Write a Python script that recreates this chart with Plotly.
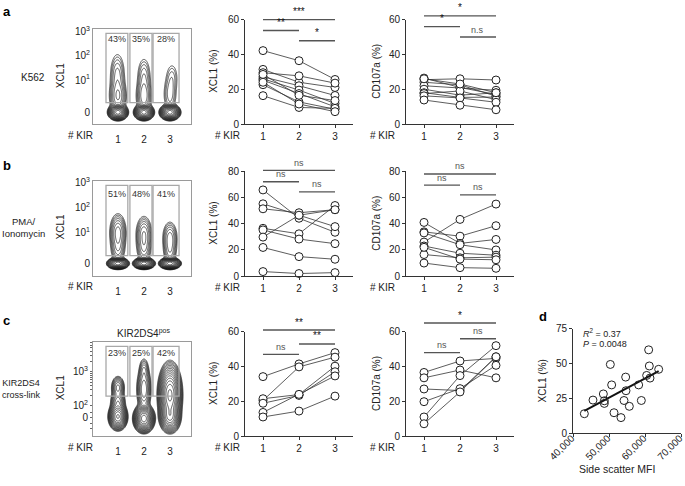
import numpy as np
import plotly.graph_objects as go

W, H = 685, 486
FONT = "Liberation Sans, Arial, sans-serif"
TXT = "#222222"

KIR = [1, 2, 3]

# ---------------- data ----------------
# panel a : K562
a_xcl1 = [[42.2, 36.4, 25.6], [31.4, 24.0, 21.0], [29.5, 27.7, 23.5], [27.1, 22.0, 16.4],
          [26.0, 19.5, 11.8], [25.2, 17.5, 9.9], [22.6, 12.7, 8.5], [28.5, 16.5, 13.5],
          [16.3, 9.5, 9.0], [24.0, 11.5, 7.1]]
a_cd107 = [[26.4, 21.0, 17.0], [25.5, 26.0, 25.3], [24.0, 22.5, 16.0], [22.0, 20.7, 19.4],
           [20.0, 16.6, 17.9], [18.0, 15.3, 15.5], [17.5, 19.0, 14.0], [16.2, 15.0, 12.5],
           [13.8, 10.8, 8.2], [26.0, 23.0, 18.0]]
a_gate_pct = ["43%", "35%", "28%"]

# panel b : PMA/Ionomycin
b_xcl1 = [[65.8, 44.2, 33.5], [55.2, 46.5, 37.8], [51.4, 48.4, 50.7], [36.5, 32.3, 53.9],
          [35.3, 28.3, 24.8], [29.8, 46.5, 50.7], [21.9, 14.9, 12.9], [3.5, 2.0, 2.7]]
b_cd107 = [[26.0, 43.3, 55.0], [33.8, 30.5, 38.5], [41.0, 25.0, 28.0], [33.0, 24.0, 20.0],
           [23.0, 17.5, 16.0], [16.5, 14.0, 14.5], [22.0, 13.0, 12.5], [10.0, 6.5, 6.0]]
b_gate_pct = ["51%", "48%", "41%"]

# panel c : KIR2DS4 cross-link
c_xcl1 = [[34.2, 41.5, 48.0], [20.5, 39.8, 45.4], [21.5, 23.9, 40.2], [18.9, 23.4, 37.0],
          [13.6, 24.0, 34.6], [11.0, 14.4, 23.0]]
c_cd107 = [[36.6, 43.2, 44.7], [33.5, 38.0, 33.5], [27.1, 26.2, 45.6], [19.8, 27.3, 40.7],
           [11.0, 34.8, 52.0], [7.1, 25.4, 45.6]]
c_gate_pct = ["23%", "25%", "42%"]

# panel d : side scatter vs XCL1
d_ssc = [43150, 45550, 48430, 48700, 48700, 50370, 50740, 51390, 53330, 54170,
         54630, 54720, 55650, 58240, 58980, 61020, 61200, 60460, 61390, 63800]
d_xcl1 = [14.0, 23.8, 28.2, 23.3, 21.4, 49.4, 34.7, 14.7, 11.2, 23.5,
          40.3, 30.5, 19.3, 34.7, 23.5, 59.9, 48.3, 41.5, 39.6, 45.9]
d_xticks = [40000, 50000, 60000, 70000]
d_xticklabels = ["40,000", "50,000", "60,000", "70,000"]

# significance bars: (x0, x1, level, label)
a_xcl1_sig = [(1, 3, 60.0, "***"), (1, 2, 53.8, "**"), (2, 3, 47.9, "*")]
a_cd107_sig = [(1, 3, 62.2, "*"), (1, 2, 56.0, "*"), (2, 3, 50.0, "n.s")]
b_xcl1_sig = [(1, 3, 80.7, "ns"), (1, 2, 72.0, "ns"), (2, 3, 64.3, "ns")]
b_cd107_sig = [(1, 3, 78.0, "ns"), (1, 2, 69.5, "ns"), (2, 3, 62.0, "ns")]
c_xcl1_sig = [(1, 3, 61.0, "**"), (1, 2, 47.0, "ns"), (2, 3, 53.0, "**")]
c_cd107_sig = [(1, 3, 65.0, "*"), (1, 2, 48.0, "ns"), (2, 3, 56.0, "ns")]

# flow-plot blob estimates (column, height, x-spread, y-spread, weight)
a_blobs = [(1.0, 12, 0.13, 2.8, 1.0), (1.0, 28, 0.16, 9, 0.05), (0.98, 50, 0.15, 12, 0.03),
           (2.0, 12, 0.13, 2.8, 1.0), (2.0, 28, 0.15, 9, 0.045), (2.0, 48, 0.14, 11, 0.025),
           (3.0, 12, 0.135, 2.8, 1.0), (3.0, 30, 0.14, 10, 0.022), (3.08, 48, 0.14, 9, 0.014)]
b_blobs = [(1.0, 13, 0.14, 2.0, 1.0), (1.0, 45, 0.15, 9, 0.06), (1.0, 28, 0.14, 8, 0.03),
           (2.0, 13, 0.14, 2.0, 1.0), (2.0, 43, 0.15, 9, 0.05), (2.0, 28, 0.14, 8, 0.03),
           (3.0, 13, 0.14, 2.0, 1.0), (3.0, 40, 0.14, 8, 0.04), (3.0, 26, 0.13, 8, 0.03)]
c_blobs = [(1.0, 20, 0.13, 5, 0.6), (1.0, 50, 0.11, 5, 0.08), (1.0, 34, 0.12, 6, 0.1),
           (2.0, 18, 0.14, 5, 1.0), (2.0, 48, 0.12, 10, 0.1), (2.0, 68, 0.09, 6, 0.03),
           (3.0, 42, 0.16, 11.4, 0.9), (3.0, 20, 0.15, 6, 0.4)]

# ---------------- layout helpers ----------------
def dx(p0, p1):
    return [p0 / W, p1 / W]


def dy(top, bottom):
    return [1 - bottom / H, 1 - top / H]


def PX(x):
    return x / W


def PY(y):
    return 1 - y / H


fig = go.Figure()
layout = dict(width=W, height=H, margin=dict(l=0, r=0, t=0, b=0),
              paper_bgcolor="white", plot_bgcolor="white", showlegend=False,
              font=dict(family=FONT, size=10, color=TXT))
shapes = []
annots = []


def ann(x, y, text, size=10, xanchor="center", yanchor="middle", angle=0, bold=False, color=TXT, align="center"):
    if bold:
        text = "<b>" + text + "</b>"
    annots.append(dict(x=PX(x), y=PY(y), xref="paper", yref="paper", text=text, showarrow=False,
                       xanchor=xanchor, yanchor=yanchor, textangle=angle, align=align,
                       font=dict(family=FONT, size=size, color=color)))


def axes_common():
    return dict(showgrid=False, zeroline=False, showline=True, linecolor="#333", linewidth=1,
                ticks="outside", ticklen=3, tickwidth=1, tickcolor="#333",
                tickfont=dict(family=FONT, size=10, color=TXT), fixedrange=True)


def line_panel(idx, xpx, ypx, yrange, ytickvals, data, sig, ylab_x, ylab, kir_right):
    xa = "xaxis%d" % idx
    ya = "yaxis%d" % idx
    xr = "x%d" % idx
    yr = "y%d" % idx
    layout[xa] = dict(axes_common(), domain=dx(*xpx), range=[0.5, 3.5], tickvals=KIR, anchor=yr)
    layout[ya] = dict(axes_common(), domain=dy(*ypx), range=yrange, tickvals=ytickvals, anchor=xr)
    for row in data:
        fig.add_trace(go.Scatter(x=KIR, y=row, mode="lines", xaxis=xr, yaxis=yr,
                                 line=dict(color="#333", width=0.8), hoverinfo="skip"))
    xs = [k for row in data for k in KIR]
    ys = [v for row in data for v in row]
    fig.add_trace(go.Scatter(x=xs, y=ys, mode="markers", xaxis=xr, yaxis=yr, cliponaxis=False,
                             marker=dict(symbol="circle", size=8, color="white",
                                         line=dict(color="#222", width=1))))
    x0p, x1p = xpx
    top, bot = ypx
    for (a, b, lev, lab) in sig:
        X0 = x0p + (a - 0.5) / 3.0 * (x1p - x0p)
        X1 = x0p + (b - 0.5) / 3.0 * (x1p - x0p)
        Y = bot - (lev - yrange[0]) / (yrange[1] - yrange[0]) * (bot - top)
        shapes.append(dict(type="line", xref="paper", yref="paper", x0=PX(X0), x1=PX(X1),
                           y0=PY(Y), y1=PY(Y), line=dict(color="#555", width=1.4)))
        col = "#555" if "n" in lab else "#111"
        ann((X0 + X1) / 2, Y - 0.5, lab, size=9 if "n" in lab else 10, yanchor="bottom", color=col)
    ann(ylab_x, (top + bot) / 2, ylab, size=10, angle=-90)
    ann(kir_right, bot + 12, "# KIR", size=10, xanchor="right")


def flow_panel(idx, xpx, ypx, blobs, ytv, ytt, gate_y, pcts, pct_y, kir_y, ylab_y, minor=None):
    xa = "xaxis%d" % idx
    ya = "yaxis%d" % idx
    xr = "x%d" % idx
    yr = "y%d" % idx
    hpx = ypx[1] - ypx[0]
    xlo, xhi = 0.04, 3.81
    layout[xa] = dict(domain=dx(*xpx), range=[xlo, xhi], tickvals=KIR, showgrid=False, zeroline=False,
                      showline=True, mirror=True, linecolor="#9a9a9a", linewidth=1,
                      ticks="outside", ticklen=6, tickcolor="rgba(0,0,0,0)",
                      tickfont=dict(family=FONT, size=10, color=TXT), anchor=yr, fixedrange=True)
    ydict = dict(domain=dy(*ypx), range=[0, hpx], tickvals=ytv, ticktext=ytt, showgrid=False,
                 zeroline=False, showline=True, mirror=True, linecolor="#9a9a9a", linewidth=1,
                 ticks="", tickfont=dict(family=FONT, size=10, color=TXT), anchor=xr, fixedrange=True)
    if minor is not None:
        ydict["ticks"] = "outside"
        ydict["ticklen"] = 2
        ydict["tickcolor"] = "#666"
        ydict["minor"] = dict(tickvals=minor, ticklen=2, tickcolor="#666", ticks="outside")
    layout[ya] = ydict
    gx = np.linspace(xlo, xhi, 200)
    gy = np.linspace(0, hpx, 200)
    X, Y = np.meshgrid(gx, gy)
    Z = np.zeros_like(X)
    for (cx, cy, sx, sy, w) in blobs:
        Z += w * np.exp(-0.5 * ((X - cx) / sx) ** 2 - 0.5 * ((Y - cy) / sy) ** 2)
    Z = np.log10(Z / Z.max() + 1e-9)
    fig.add_trace(go.Contour(x=gx, y=gy, z=Z, xaxis=xr, yaxis=yr, showscale=False,
                             contours=dict(coloring="lines", start=-2.2, end=-0.05, size=0.15),
                             colorscale=[[0, "#111111"], [1, "#111111"]],
                             line=dict(width=0.7), hoverinfo="skip"))
    gates = [(0.54, 1.38), (1.46, 2.31), (2.35, 3.35)]
    for (g0, g1), p in zip(gates, pcts):
        shapes.append(dict(type="rect", xref=xr, yref=yr, x0=g0, x1=g1, y0=gate_y[0], y1=gate_y[1],
                           line=dict(color="#a8a8a8", width=1.3)))
        cxp = xpx[0] + (((g0 + g1) / 2 - xlo) / (xhi - xlo)) * (xpx[1] - xpx[0])
        ann(cxp, pct_y, p, size=9, color="#333")
    ann(60, ylab_y, "XCL1", size=10, angle=-90)
    ann(95, kir_y, "# KIR", size=10, xanchor="right")


# ---------------- panels ----------------
flow_panel(1, (93, 191), (24, 121), a_blobs, [12, 45, 70, 95],
           ["0", "10<sup>1</sup>", "10<sup>2</sup>", "10<sup>3</sup>"], (22, 93), a_gate_pct, 34, 133, 72)
flow_panel(4, (93, 191), (179, 277), b_blobs, [13, 45, 70, 96],
           ["0", "10<sup>1</sup>", "10<sup>2</sup>", "10<sup>3</sup>"], (21, 93), b_gate_pct, 193, 288, 227)
c_minor = [31 + 35 * np.log10(k) for k in range(2, 10)] + [66 + 35 * np.log10(k) for k in range(2, 8)] + [8, 13, 24]
flow_panel(7, (93, 191), (344, 441), c_blobs, [19, 31, 66],
           ["0", "10<sup>2</sup>", "10<sup>3</sup>"], (41, 92), c_gate_pct, 356, 453, 392, minor=c_minor)

line_panel(2, (245, 353), (14, 121), [0, 60], [0, 20, 40, 60], a_xcl1, a_xcl1_sig, 214, "XCL1 (%)", 242)
line_panel(3, (406, 514), (14, 121), [0, 60], [0, 20, 40, 60], a_cd107, a_cd107_sig, 377, "CD107a (%)", 397)
line_panel(5, (245, 353), (169.5, 277), [0, 80], [0, 20, 40, 60, 80], b_xcl1, b_xcl1_sig, 214, "XCL1 (%)", 242)
line_panel(6, (406, 514), (169.5, 277), [0, 80], [0, 20, 40, 60, 80], b_cd107, b_cd107_sig, 377, "CD107a (%)", 397)
line_panel(8, (245, 353), (334, 441), [0, 60], [0, 20, 40, 60], c_xcl1, c_xcl1_sig, 214, "XCL1 (%)", 242)
line_panel(9, (406, 514), (334, 441), [0, 60], [0, 20, 40, 60], c_cd107, c_cd107_sig, 377, "CD107a (%)", 397)

# panel d scatter
dxp = (573, 681)
layout["xaxis10"] = dict(axes_common(), domain=dx(*dxp), range=[40000, 70000],
                         tickvals=d_xticks, showticklabels=False, anchor="y10")
layout["yaxis10"] = dict(axes_common(), domain=dy(331, 438), range=[0, 75], tickvals=[0, 25, 50, 75], anchor="x10")
slope, icpt = np.polyfit(d_ssc, d_xcl1, 1)
fx = [min(d_ssc), max(d_ssc)]
fig.add_trace(go.Scatter(x=fx, y=[slope * v + icpt for v in fx], mode="lines", xaxis="x10", yaxis="y10",
                         line=dict(color="#111", width=2)))
fig.add_trace(go.Scatter(x=d_ssc, y=d_xcl1, mode="markers", xaxis="x10", yaxis="y10", cliponaxis=False,
                         marker=dict(symbol="circle", size=8, color="rgba(255,255,255,0)",
                                     line=dict(color="#222", width=1))))
for v, t in zip(d_xticks, d_xticklabels):
    xt = dxp[0] + (v - 40000) / 30000.0 * (dxp[1] - dxp[0])
    ann(xt - 11, 453, t, size=10, angle=-45)
ann(581, 335, "<i>R</i><sup>2</sup> = 0.37", size=9, xanchor="left")
ann(581, 347, "<i>P</i> = 0.0048", size=9, xanchor="left")
ann(542, 385, "XCL1 (%)", size=10, angle=-90)
ann(617, 475, "Side scatter MFI", size=10.5)

# panel letters & row labels
ann(1, 6, "a", size=13, xanchor="left", bold=True, color="#000")
ann(1, 164, "b", size=13, xanchor="left", bold=True, color="#000")
ann(1, 322, "c", size=13, xanchor="left", bold=True, color="#000")
ann(537, 318, "d", size=13, xanchor="left", bold=True, color="#000")
ann(47, 73, "K562", size=10, xanchor="right", align="right")
ann(23.5, 227, "PMA/<br>Ionomycin", size=9.5, xanchor="center", align="center")
ann(21.5, 393, "KIR2DS4<br>cross-link", size=9, xanchor="center", align="center")
ann(143, 335, "KIR2DS4<sup>pos</sup>", size=10)

layout["shapes"] = shapes
layout["annotations"] = annots
fig.update_layout(**layout)
fig.write_html("out.html", config={"displayModeBar": False, "staticPlot": True},
               post_script="document.body.style.margin='0';document.body.style.overflow='hidden';")
